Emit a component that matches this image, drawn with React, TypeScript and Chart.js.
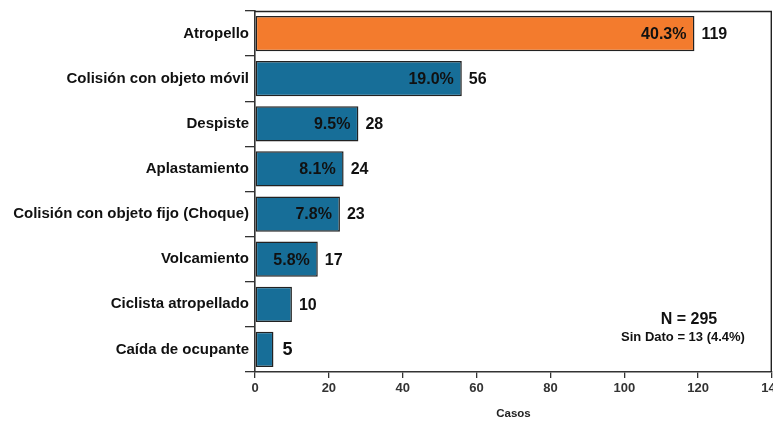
import React, { useEffect, useRef } from "react";
import { Chart, registerables } from "chart.js";

Chart.register(...registerables);

const categories = [
  "Atropello",
  "Colisión con objeto móvil",
  "Despiste",
  "Aplastamiento",
  "Colisión con objeto fijo (Choque)",
  "Volcamiento",
  "Ciclista atropellado",
  "Caída de ocupante",
];
const cases = [119, 56, 28, 24, 23, 17, 10, 5];
const pctLabels: (string | null)[] = ["40.3%", "19.0%", "9.5%", "8.1%", "7.8%", "5.8%", null, null];
const barColors = ["#F37B2D", "#176E98", "#176E98", "#176E98", "#176E98", "#176E98", "#176E98", "#176E98"];
const xTicks = [0, 20, 40, 60, 80, 100, 120, 140];
const totalLabel = "N = 295";
const missingLabel = "Sin Dato = 13 (4.4%)";

const FONT = "'Liberation Sans', Arial, sans-serif";

const overlayPlugin = {
  id: "overlay",
  afterDatasetsDraw(chart: any) {
    const { ctx, chartArea } = chart;
    const meta = chart.getDatasetMeta(0);
    ctx.save();
    // frame top & right
    ctx.strokeStyle = "#222";
    ctx.lineWidth = 1.4;
    ctx.beginPath();
    ctx.moveTo(chartArea.left, chartArea.top + 0.5);
    ctx.lineTo(chartArea.right - 0.7, chartArea.top + 0.5);
    ctx.lineTo(chartArea.right - 0.7, chartArea.bottom);
    ctx.stroke();

    ctx.textBaseline = "middle";
    meta.data.forEach((bar: any, i: number) => {
      const p = pctLabels[i];
      if (p) {
        ctx.font = `bold 16px ${FONT}`;
        ctx.fillStyle = "#111";
        ctx.textAlign = "right";
        ctx.fillText(p, bar.x - 8, bar.y + 1);
      }
      const small = cases[i] < 10;
      ctx.font = `bold ${small ? 18 : 16}px ${FONT}`;
      ctx.fillStyle = "#111";
      ctx.textAlign = "left";
      ctx.fillText(String(cases[i]), bar.x + (small ? 9 : 7), bar.y + 1);
    });

    ctx.textAlign = "center";
    ctx.fillStyle = "#111";
    ctx.font = `bold 16px ${FONT}`;
    ctx.fillText(totalLabel, 689, 320);
    ctx.font = `bold 13px ${FONT}`;
    ctx.fillText(missingLabel, 683, 337);
    ctx.restore();
  },
};

export default function App() {
  const ref = useRef<HTMLCanvasElement>(null);
  useEffect(() => {
    if (!ref.current) return;
    const chart = new Chart(ref.current, {
      type: "bar",
      data: {
        labels: categories,
        datasets: [
          {
            data: cases,
            backgroundColor: barColors,
            borderColor: "#222",
            borderWidth: 1.5,
            borderSkipped: false,
            barPercentage: 0.78,
            categoryPercentage: 1,
          },
        ],
      },
      options: {
        indexAxis: "y",
        responsive: false,
        animation: false,
        maintainAspectRatio: false,
        layout: { padding: { top: 11, right: 1, left: 0, bottom: 0 } },
        plugins: { legend: { display: false }, tooltip: { enabled: false } },
        scales: {
          x: {
            min: 0,
            max: 140,
            afterBuildTicks: (scale: any) => {
              scale.ticks = xTicks.map((v) => ({ value: v }));
            },
            afterFit: (scale: any) => {
              scale.height = 49;
              scale.paddingLeft = 0;
              scale.paddingRight = 0;
            },
            grid: { display: true, drawOnChartArea: false, drawTicks: true, tickLength: 6, color: "#333", lineWidth: 1.3 },
            border: { display: true, color: "#333", width: 1.6 },
            ticks: { color: "#333", font: { family: FONT, size: 13, weight: "bold" }, padding: 3, maxRotation: 0 },
            title: { display: true, text: "Casos", color: "#222", font: { family: FONT, size: 11.5, weight: "bold" }, padding: { top: 6, bottom: 0 } },
          },
          y: {
            afterFit: (scale: any) => {
              scale.width = 255;
            },
            grid: { display: true, offset: true, drawOnChartArea: false, drawTicks: true, tickLength: 10, color: "#333", lineWidth: 1.3 },
            border: { display: true, color: "#333", width: 1.6 },
            ticks: { color: "#111", font: { family: FONT, size: 15, weight: "bold" }, padding: -4, autoSkip: false },
          },
        },
      },
      plugins: [overlayPlugin],
    } as any);
    return () => chart.destroy();
  }, []);
  return (
    <div style={{ position: "fixed", left: 0, top: 0, width: 773, height: 421, background: "#fff" }}>
      <canvas ref={ref} width={773} height={421} style={{ width: 773, height: 421 }} />
    </div>
  );
}
